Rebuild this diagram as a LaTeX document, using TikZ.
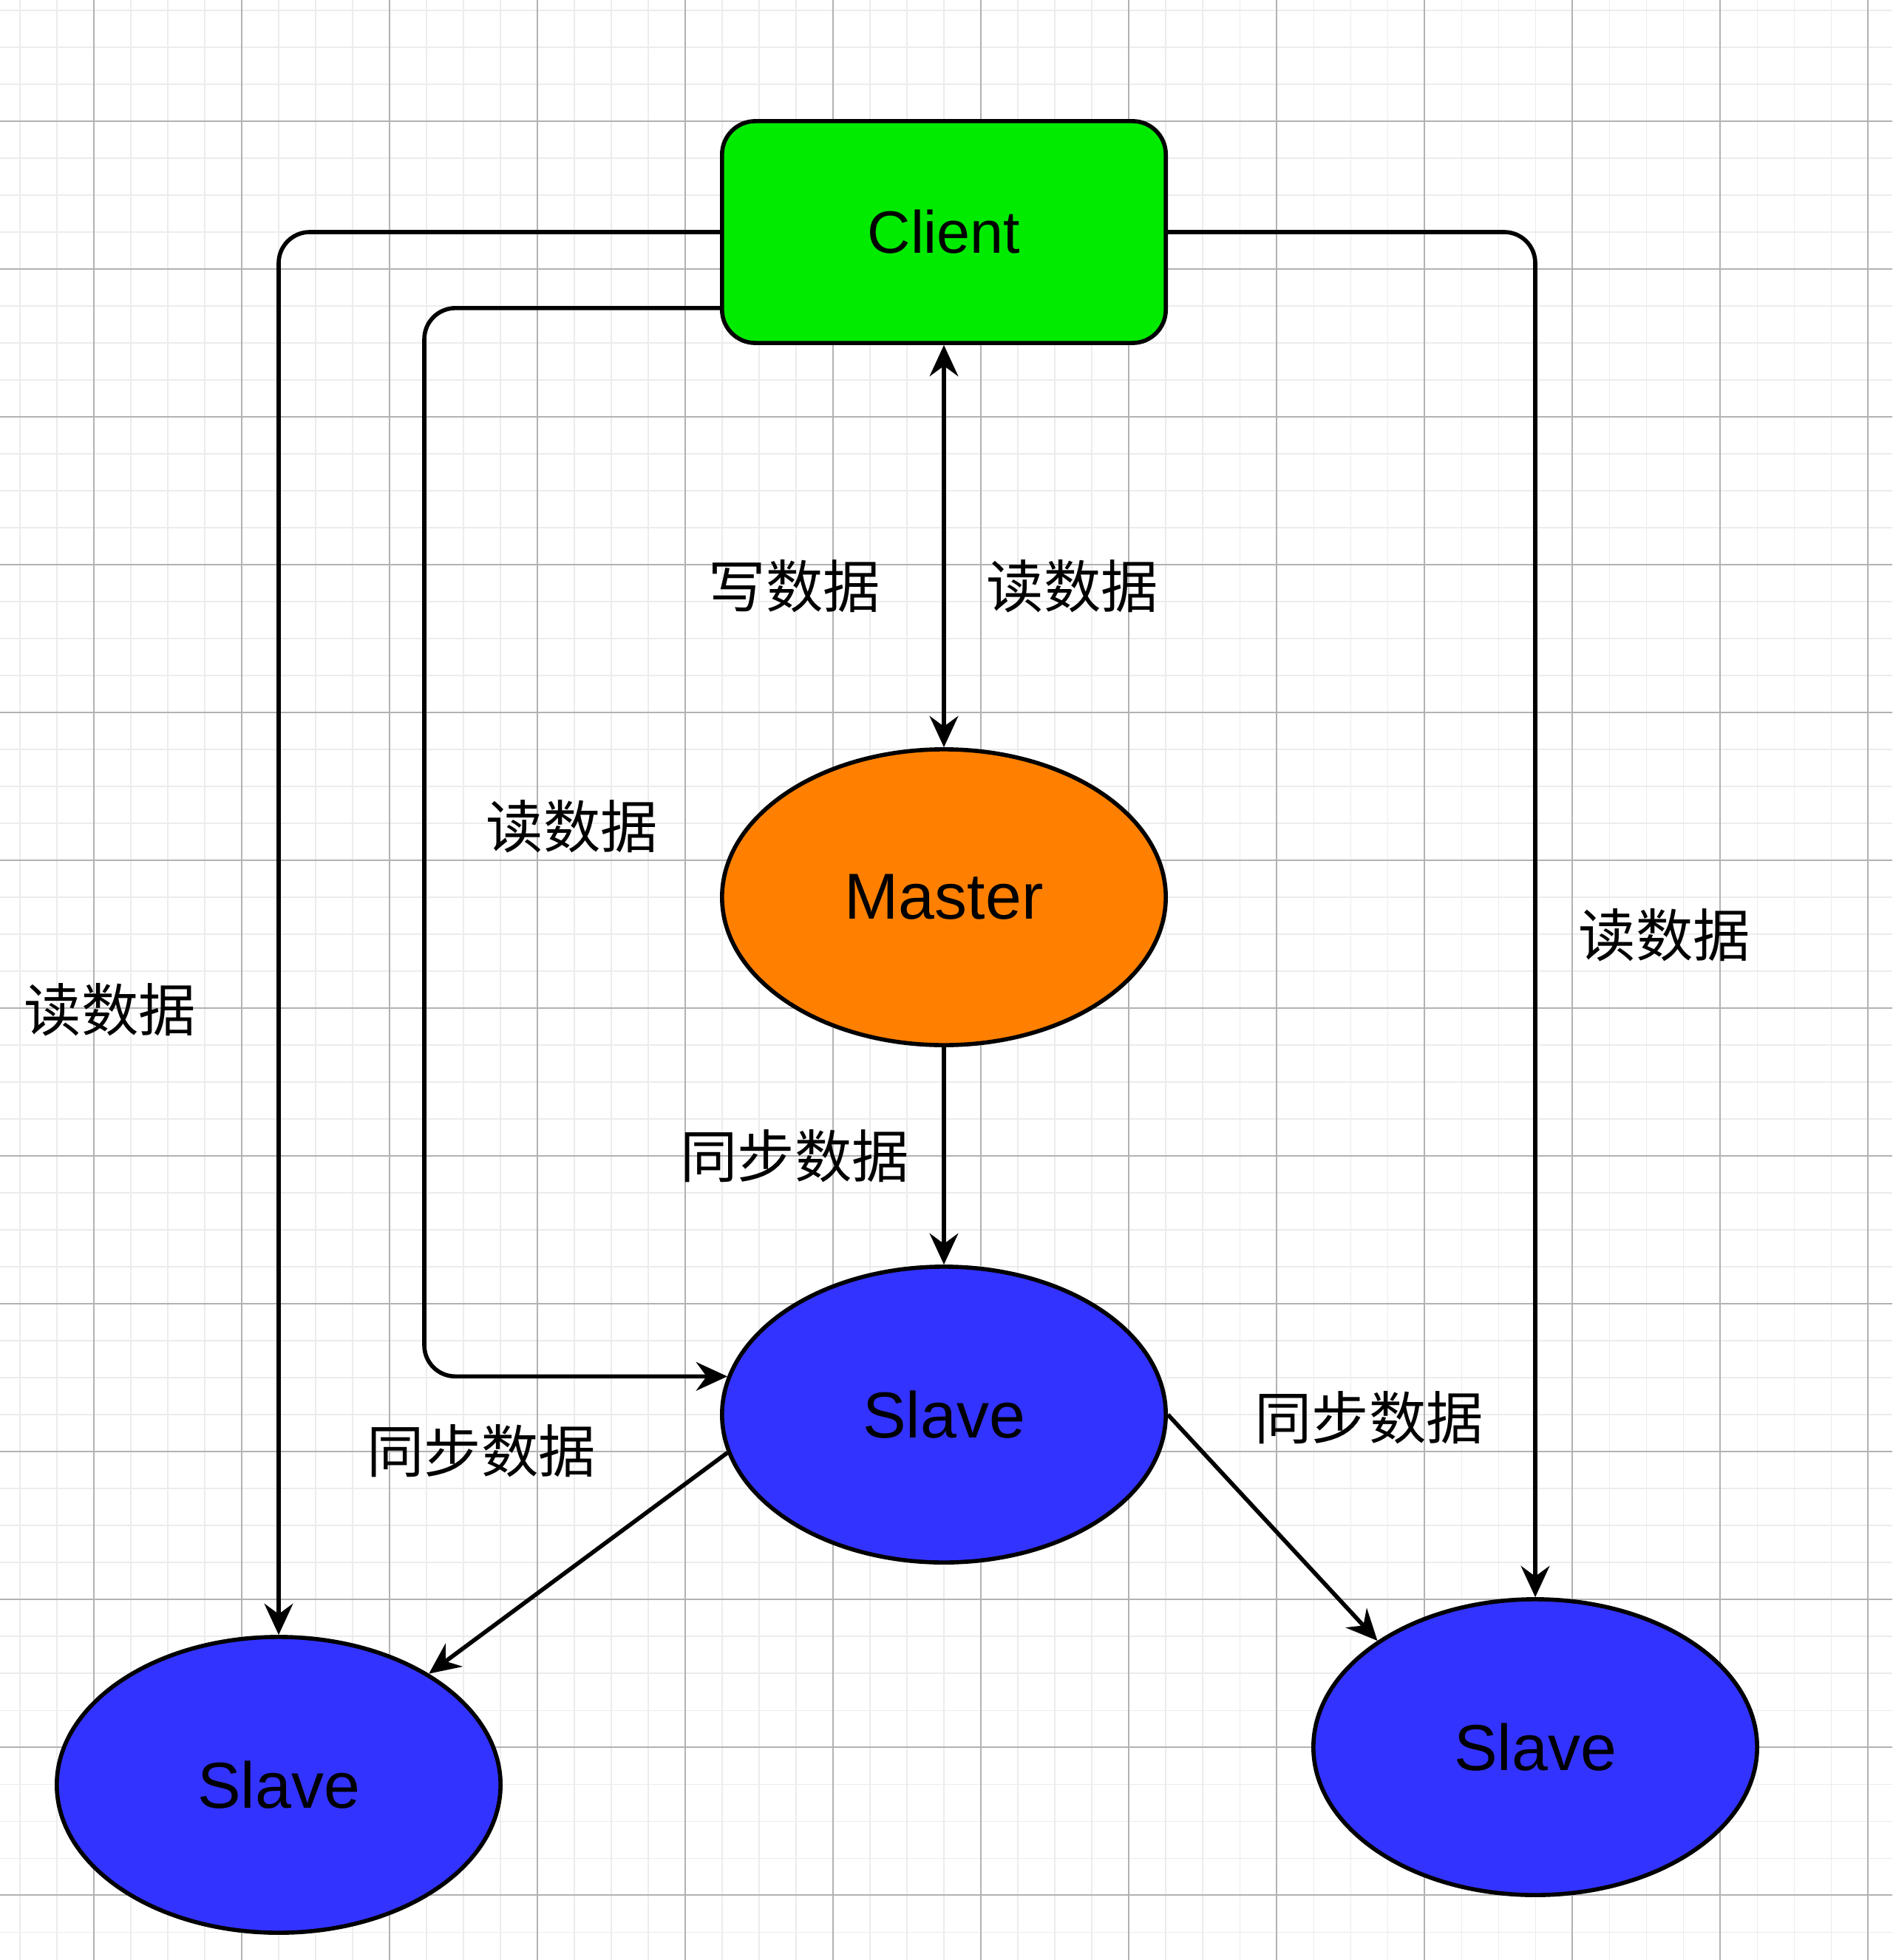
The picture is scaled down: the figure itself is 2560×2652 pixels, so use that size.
\documentclass[tikz,border=0pt]{standalone}
\usepackage{fontspec}
\setmainfont{Liberation Sans}
\newfontfamily\cjk{Noto Sans CJK SC}
\usetikzlibrary{arrows.meta,shapes.geometric}
\definecolor{clientgreen}{RGB}{0,235,0}
\definecolor{masterorange}{RGB}{255,128,0}
\definecolor{slaveblue}{RGB}{51,51,255}
\begin{document}
\begin{tikzpicture}
		[x=0.01cm,y=-0.01cm,line width=1.6pt,
		client/.style={rectangle,rounded corners=0.45cm,draw,fill=clientgreen,minimum width=6cm,minimum height=3cm,font=\fontsize{23}{28}\selectfont},
		master/.style={ellipse,draw,fill=masterorange,minimum width=6cm,minimum height=4cm,inner sep=0pt,font=\fontsize{25}{30}\selectfont},
		slave/.style={master,fill=slaveblue},
		lbl/.style={font=\cjk\fontsize{22}{26}\selectfont},
		minorline/.style={gray!15,line width=0.3pt},
		majorline/.style={gray!60,line width=0.45pt},
		>={Stealth[length=12pt,width=11pt,inset=4pt]}]
		\useasboundingbox (0,0) rectangle (2560,2652);
		\foreach \x in {27,77,...,2560} \draw[minorline] (\x,0)--(\x,2652);
		\foreach \y in {14,64,...,2652} \draw[minorline] (0,\y)--(2560,\y);
		\foreach \x in {127,327,...,2560} \draw[majorline] (\x,0)--(\x,2652);
		\foreach \y in {164,364,...,2652} \draw[majorline] (0,\y)--(2560,\y);
		\node[client,name=client]at(1277,314){Client};
		\node[master,name=master]at(1277,1214){Master};
		\node[slave,name=smid]at(1277,1914){Slave};
		\node[slave,name=sleft]at(377,2415){Slave};
		\node[slave,name=sright]at(2077,2364){Slave};
		\draw[<->] (client)--(master);
		\draw[->] (master)--(smid);
		\draw[->,rounded corners=0.42cm] (client.west) -| (sleft.north);
		\draw[->,rounded corners=0.42cm] ([yshift=5mm]client.south west) -- ++(-400,0) |- (smid.170);
		\draw[->,rounded corners=0.42cm] (client.east) -| (sright.north);
		\draw[->] (smid.190)--(sleft);
		\draw[->] (smid.east)--(sright.146);
		\node[lbl,name=write]at(1075,793){写数据};
		\node[lbl,name=read1]at(1451,793){读数据};
		\node[lbl,name=read2]at(774,1118){读数据};
		\node[lbl,name=read3]at(149,1366){读数据};
		\node[lbl,name=read4]at(2252,1265){读数据};
		\node[lbl,name=sync1]at(1075,1564){同步数据};
		\node[lbl,name=sync2]at(651,1963){同步数据};
		\node[lbl,name=sync3]at(1852,1918){同步数据};
	\end{tikzpicture}
\end{document}
